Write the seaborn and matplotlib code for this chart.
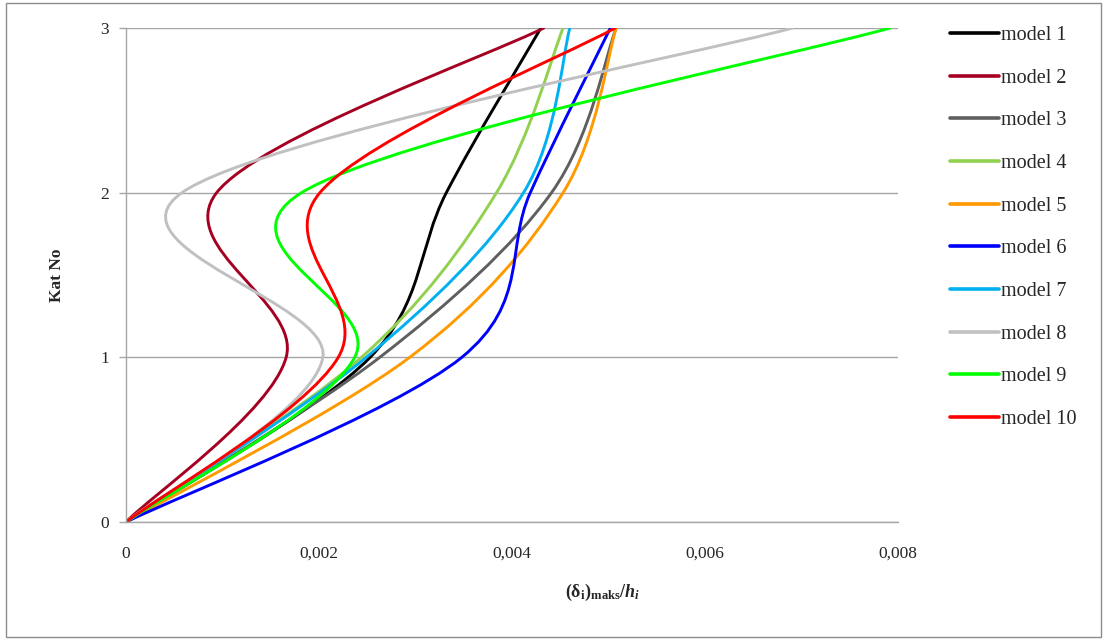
import numpy as np
import matplotlib
matplotlib.use("Agg")
import matplotlib.pyplot as plt
from matplotlib.path import Path
from matplotlib.patches import PathPatch, Rectangle
from matplotlib.lines import Line2D
from matplotlib.ticker import FuncFormatter
import seaborn as sns

# kat (floor) levels and max drift ratios
kat = [0, 1, 2, 3]
model_1 = [0, 0.00253, 0.00332, 0.00430]
model_2 = [0, 0.00166, 0.00094, 0.00433]
model_3 = [0, 0.00263, 0.00441, 0.00508]
model_4 = [0, 0.00244, 0.00384, 0.00453]
model_5 = [0, 0.00294, 0.00453, 0.00508]
model_6 = [0, 0.00348, 0.00419, 0.00502]
model_7 = [0, 0.00249, 0.00412, 0.00460]
model_8 = [0, 0.00204, 0.00058, 0.00691]
model_9 = [0, 0.00237, 0.00182, 0.00792]
model_10 = [0, 0.00220, 0.00201, 0.00507]

names = ['model 1', 'model 2', 'model 3', 'model 4', 'model 5',
         'model 6', 'model 7', 'model 8', 'model 9', 'model 10']
series = [model_1, model_2, model_3, model_4, model_5,
          model_6, model_7, model_8, model_9, model_10]
colors = ['#000000', '#A50021', '#5F5F5F', '#92D050', '#FF9900',
          '#0000FF', '#00B0F0', '#C0C0C0', '#00FF00', '#FF0000']

sns.set_theme(style='white')
plt.rcParams['font.family'] = ['Liberation Serif', 'DejaVu Serif']
plt.rcParams['mathtext.fontset'] = 'custom'
plt.rcParams['mathtext.rm'] = 'Liberation Serif'
plt.rcParams['mathtext.bf'] = 'Liberation Serif:bold'
plt.rcParams['mathtext.it'] = 'Liberation Serif:italic'
plt.rcParams['mathtext.bfit'] = 'Liberation Serif:bold:italic'


def smooth_path(xs, ys):
    # excel-style smoothed line: bezier segments with catmull-rom handles
    pts = np.column_stack([xs, ys]).astype(float)
    n = len(pts)
    verts = [pts[0]]
    codes = [Path.MOVETO]
    for i in range(n - 1):
        p0 = pts[i - 1] if i > 0 else pts[i]
        p1, p2 = pts[i], pts[i + 1]
        p3 = pts[i + 2] if i + 2 < n else pts[i + 1]
        verts += [p1 + (p2 - p0) / 6, p2 - (p3 - p1) / 6, p2]
        codes += [Path.CURVE4] * 3
    return Path(verts, codes)


fig, ax = plt.subplots(figsize=(11.03, 6.42), dpi=100)
fig.subplots_adjust(left=0.1142, right=0.8141, bottom=0.1869, top=0.9564)

handles = []
for name, vals, c in zip(names, series, colors):
    ax.add_patch(PathPatch(smooth_path(vals, kat), facecolor='none',
                           edgecolor=c, lw=2.1, capstyle='round'))
    handles.append(Line2D([], [], color=c, lw=2.6, label=name))

ax.set_xlim(0, 0.008)
ax.set_ylim(0, 3)
ax.set_xticks([0, 0.002, 0.004, 0.006, 0.008])
ax.set_yticks(kat)
ax.xaxis.set_major_formatter(FuncFormatter(
    lambda v, p: '0' if v == 0 else f'{v:.3f}'.replace('.', ',')))
ax.grid(axis='y', color='#A6A6A6', lw=1)
ax.grid(axis='x', visible=False)
for s in ['top', 'right']:
    ax.spines[s].set_visible(False)
for s in ['left', 'bottom']:
    ax.spines[s].set_color('#A6A6A6')
    ax.spines[s].set_linewidth(1)
ax.tick_params(axis='y', length=5, width=1, color='#A6A6A6', pad=7,
               labelsize=12.5, left=True)
ax.tick_params(axis='x', length=0, pad=17, labelsize=12.5)

fig.text(57 / 1103, 1 - 275 / 642, 'Kat No', rotation=90, fontsize=12.5,
         fontweight='bold', ha='center', va='center')
fig.text(603 / 1103, 1 - 592 / 642,
         r'$\mathbf{(\delta_i)_{maks}/}\mathbfit{h_i}$',
         fontsize=13, ha='center', va='center')

fig.legend(handles=handles, loc='upper left',
           bbox_to_anchor=(950 / 1103, 1 - 26 / 642), frameon=False,
           fontsize=14.5, handlelength=2.45, handletextpad=0.1,
           labelspacing=1.17, borderpad=0, borderaxespad=0)

fig.patches.append(Rectangle((6 / 1103, 5 / 642), 1094.5 / 1103, 634 / 642,
                             transform=fig.transFigure, fill=False,
                             edgecolor='#8C8C8C', lw=1))

fig.savefig('out.png', dpi=100)
